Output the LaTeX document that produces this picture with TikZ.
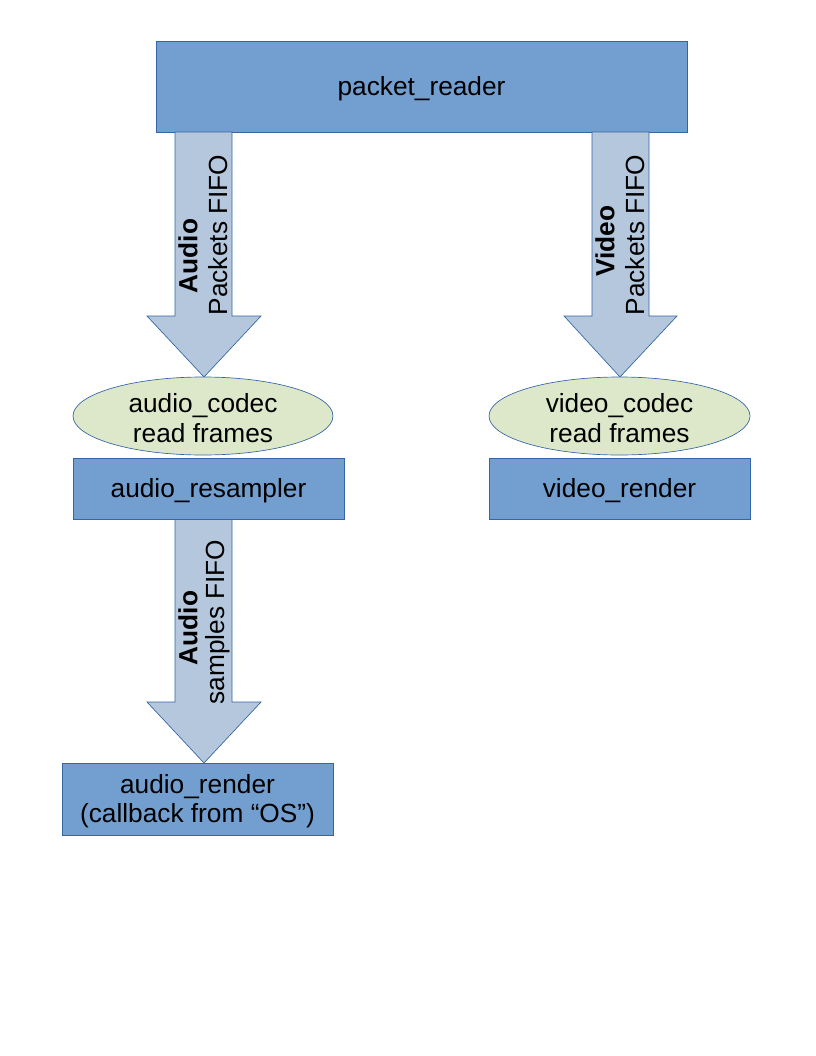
\documentclass[tikz,border=0pt]{standalone}
\usepackage{fontspec}
\setmainfont{Liberation Sans}
\definecolor{boxfill}{HTML}{729FCF}
\definecolor{boxline}{HTML}{3465A4}
\definecolor{arrfill}{HTML}{B4C7DC}
\definecolor{arrline}{HTML}{3465A4}
\definecolor{ellfill}{HTML}{DDE8CB}
\begin{document}
\begin{tikzpicture}[x=0.75pt,y=-0.75pt,
  every node/.style={font=\fontsize{19.7}{22}\selectfont, inner sep=0pt, align=center},
  blockbox/.style={draw=boxline, fill=boxfill, line width=0.6pt},
  blockarrow/.style={draw=arrline, fill=arrfill, line width=0.5pt},
  codec/.style={draw=boxline, fill=ellfill, line width=0.5pt},
  vlabel/.style={rotate=90, anchor=center}]
\useasboundingbox (0,0) rectangle (816,1056);
% boxes
\draw[blockbox] (156,41) rectangle (687,132);
\node (pr) at (421.5,89) {packet\_reader};
% arrows
\draw[blockarrow] (175,132) -- (232,132) -- (232,316) -- (261,316) -- (204,377) -- (147,316) -- (175,316) -- cycle;
\draw[blockarrow] (592,132) -- (649,132) -- (649,316) -- (677,316) -- (620,377) -- (564,316) -- (592,316) -- cycle;
\draw[blockarrow] (175,519) -- (232,519) -- (232,702) -- (261,702) -- (204,763) -- (147,702) -- (175,702) -- cycle;
% labels on arrows
\node[vlabel] (la1) at (188,256) {\bfseries Audio};
\node[vlabel] (lb1) at (218,235) {Packets FIFO};
\node[vlabel] (la2) at (605,241) {\bfseries Video};
\node[vlabel] (lb2) at (635,235) {Packets FIFO};
\node[vlabel] (la3) at (188,628) {\bfseries Audio};
\node[vlabel] (lb3) at (218,622) {samples FIFO};
% ellipses
\draw[codec] (203,416) ellipse [x radius=130, y radius=39];
\node (ac) at (203,418) {audio\_codec\\read frames};
\draw[codec] (619.5,416) ellipse [x radius=130.5, y radius=39];
\node (vc) at (619.5,418) {video\_codec\\read frames};
% lower boxes
\draw[blockbox] (73,458) rectangle (344,519);
\node (ar) at (208.5,491) {audio\_resampler};
\draw[blockbox] (489,458) rectangle (750,519);
\node (vr) at (619.5,491) {video\_render};
\draw[blockbox] (62,763) rectangle (333,835);
\node (ard) at (197.5,801) {audio\_render\\(callback from “OS”)};
\end{tikzpicture}
\end{document}
